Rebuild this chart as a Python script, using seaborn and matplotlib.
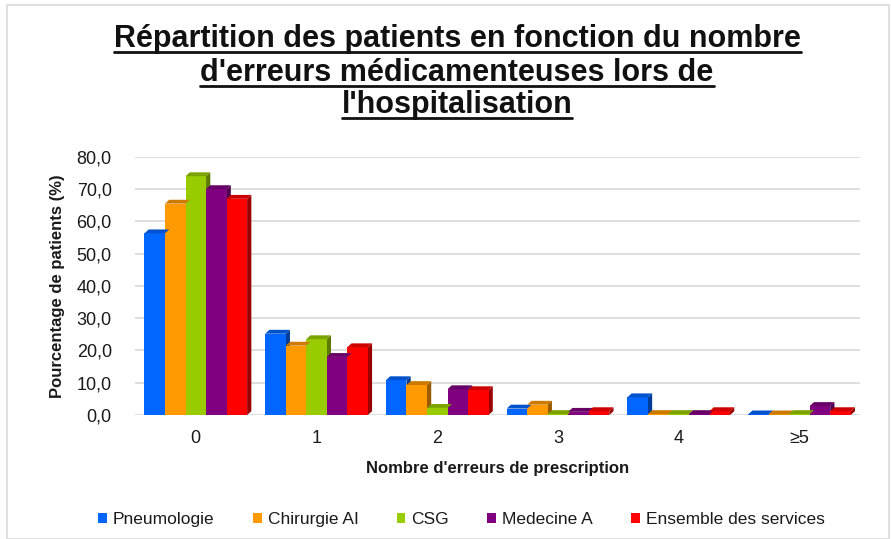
import numpy as np
import pandas as pd
import seaborn as sns
import matplotlib
matplotlib.use('Agg')
import matplotlib.pyplot as plt
from matplotlib.patches import Polygon, Rectangle
import matplotlib.colors as mcolors
from matplotlib.ticker import FuncFormatter

# data
categories = ["0", "1", "2", "3", "4", "\u22655"]
services = ["Pneumologie", "Chirurgie AI", "CSG", "Medecine A", "Ensemble des services"]
pneumologie = [56.3, 25.2, 10.8, 2.0, 5.5, 0.2]
chirurgie = [65.5, 21.5, 9.3, 3.2, 0.3, 0.2]
csg = [74.0, 23.5, 2.2, 0.3, 0.3, 0.3]
medecine = [70.0, 18.0, 8.0, 1.0, 0.3, 2.8]
ensemble = [67.0, 21.0, 7.7, 1.2, 1.2, 1.2]
colors = ["#0066ff", "#ff9900", "#99cc00", "#800080", "#ff0000"]
title_lines = ["R\u00e9partition des patients en fonction du nombre",
               "d'erreurs m\u00e9dicamenteuses lors de",
               "l'hospitalisation"]

df = pd.DataFrame({
    "erreurs": categories * 5,
    "service": np.repeat(services, len(categories)),
    "pct": pneumologie + chirurgie + csg + medecine + ensemble,
})

sns.set_style("white")
plt.rcParams['font.family'] = ['Liberation Sans', 'DejaVu Sans']
plt.rcParams['text.color'] = '#1a1a1a'
plt.rcParams['axes.labelcolor'] = '#1a1a1a'

fig = plt.figure(figsize=(8.91, 5.39), dpi=100)
ax = fig.add_axes([0.152, 0.230, 0.813, 0.479])

sns.barplot(data=df, x="erreurs", y="pct", hue="service", order=categories,
            hue_order=services, palette=colors, width=0.85, saturation=1,
            linewidth=0, ax=ax, legend=True, zorder=3)

# fake 3d depth on each bar
dx, dy = 0.035, 1.2
for p in list(ax.patches):
    if not isinstance(p, Rectangle) or p.get_width() == 0:
        continue
    x0, y0 = p.get_x(), p.get_y()
    w, h = p.get_width(), p.get_height()
    c = np.array(mcolors.to_rgb(p.get_facecolor()))
    side = Polygon([(x0 + w, y0), (x0 + w + dx, y0 + dy), (x0 + w + dx, y0 + h + dy), (x0 + w, y0 + h)],
                   closed=True, facecolor=c * 0.6, edgecolor='none', zorder=2.9)
    top = Polygon([(x0, y0 + h), (x0 + dx, y0 + h + dy), (x0 + w + dx, y0 + h + dy), (x0 + w, y0 + h)],
                  closed=True, facecolor=c * 0.8, edgecolor='none', zorder=3.1)
    ax.add_patch(side)
    ax.add_patch(top)

ax.set_ylim(0, 80)
ax.set_xlim(-0.5, 5.5)
ax.set_yticks(np.arange(0, 81, 10))
ax.yaxis.set_major_formatter(FuncFormatter(lambda v, _: f"{v:.1f}".replace(".", ",")))
ax.yaxis.grid(True, color="#d9d9d9", linewidth=1.2, zorder=0)
ax.tick_params(axis='both', labelsize=13, length=0, colors='#1a1a1a')
ax.tick_params(axis='y', pad=17)
ax.tick_params(axis='x', pad=11)
for s in ax.spines.values():
    s.set_visible(False)

ax.set_ylabel("Pourcentage de patients (%)", fontsize=12, fontweight='bold', labelpad=8)
ax.set_xlabel("Nombre d'erreurs de prescription", fontsize=12, fontweight='bold', labelpad=10)

handles, labels = ax.get_legend_handles_labels()
ax.legend(handles, labels, loc='upper center', bbox_to_anchor=(0.45, -0.315), ncol=5,
          frameon=False, fontsize=12.5, handlelength=0.5, handleheight=0.5,
          handletextpad=0.35, columnspacing=2.2)

# title, one line at a time with an underline
fig.canvas.draw()
rend = fig.canvas.get_renderer()
baselines = [0.912, 0.849, 0.791]
for line, yb in zip(title_lines, baselines):
    t = fig.text(0.513, yb, line, ha='center', va='baseline', fontsize=22,
                 fontweight='bold', color='#111111')
    bb = t.get_window_extent(rend).transformed(fig.transFigure.inverted())
    fig.add_artist(plt.Line2D([bb.x0, bb.x1], [yb - 0.009, yb - 0.009], color='#111111',
                              linewidth=2.0, transform=fig.transFigure))

fig.add_artist(Rectangle((0.008, 0.0), 0.99, 0.99, transform=fig.transFigure, fill=False,
                         edgecolor="#e0e0e0", linewidth=1.5))

fig.savefig("out.png", dpi=100)
